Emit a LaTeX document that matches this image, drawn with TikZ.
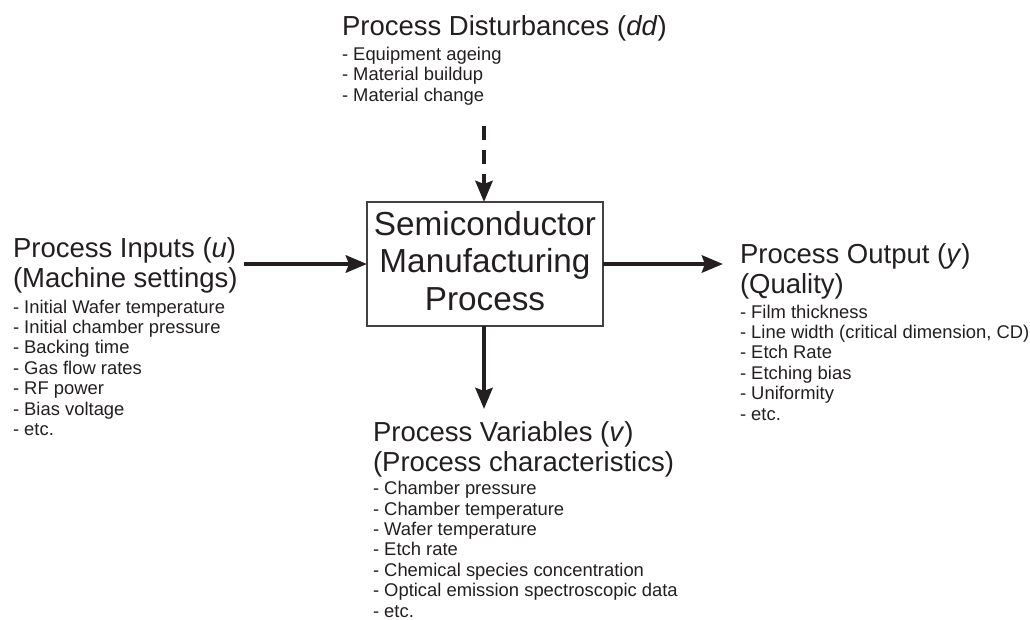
\documentclass[tikz,border=0pt]{standalone}
\usepackage{fontspec}
\setmainfont{Liberation Sans}
\usetikzlibrary{arrows.meta}
\definecolor{ink}{HTML}{231F20}
\begin{document}
\begin{tikzpicture}[x=1pt,y=-1pt,
  every node/.style={inner sep=0pt, outer sep=0pt, text=ink},
  % multi-line nodes are placed by the baseline of their last line
  head/.style={anchor=base west, align=left, font=\fontsize{27.5}{30}\selectfont},
  items/.style={anchor=base west, align=left, font=\fontsize{18.4}{20.4}\selectfont},
  procbox/.style={draw=ink!85, line width=1.5pt, minimum width=236pt, minimum height=124pt},
  boxtext/.style={anchor=base, align=center, font=\fontsize{33.3}{37.5}\selectfont},
  flow/.style={draw=ink, line width=4.5pt, -{Stealth[length=21pt,width=17pt,inset=3pt]}},
  disturb/.style={flow, dash pattern=on 14pt off 10pt}
]
\useasboundingbox (0,0) rectangle (1030,619);

% central process block
\node[procbox] (smp) at (485,264) {};
\node[boxtext] (smptext) at (485,310) {Semiconductor\\Manufacturing\\Process};

% disturbances
\node[head] (distHead) at (342,35) {Process Disturbances (\textit{dd})};
\node[items] (distList) at (342,101) {- Equipment ageing\\- Material buildup\\- Material change};

% inputs
\node[head] (inHead) at (13,287) {Process Inputs (\textit{u})\\(Machine settings)};
\node[items] (inList) at (13,435.4) {- Initial Wafer temperature\\- Initial chamber pressure\\- Backing time\\- Gas flow rates\\- RF power\\- Bias voltage\\- etc.};

% outputs
\node[head] (outHead) at (740,293) {Process Output (\textit{y})\\(Quality)};
\node[items] (outList) at (740,420) {- Film thickness\\- Line width (critical dimension, CD)\\- Etch Rate\\- Etching bias\\- Uniformity\\- etc.};

% process variables
\node[head] (varHead) at (373,471) {Process Variables (\textit{v})\\(Process characteristics)};
\node[items] (varList) at (373,617) {- Chamber pressure\\- Chamber temperature\\- Wafer temperature\\- Etch rate\\- Chemical species concentration\\- Optical emission spectroscopic data\\- etc.};

% connector end points
\coordinate (inStart) at (244,264);
\coordinate (outTip) at (723,264);
\coordinate (varTip) at (484,409);
\coordinate (distStart) at (484,126);

\draw[flow] (inStart) -- (inStart -| smp.west);
\draw[flow] (smp.east |- outTip) -- (outTip);
\draw[flow] (varTip |- smp.south) -- (varTip);
\draw[disturb] (distStart) -- (distStart |- smp.north);
\end{tikzpicture}
\end{document}
